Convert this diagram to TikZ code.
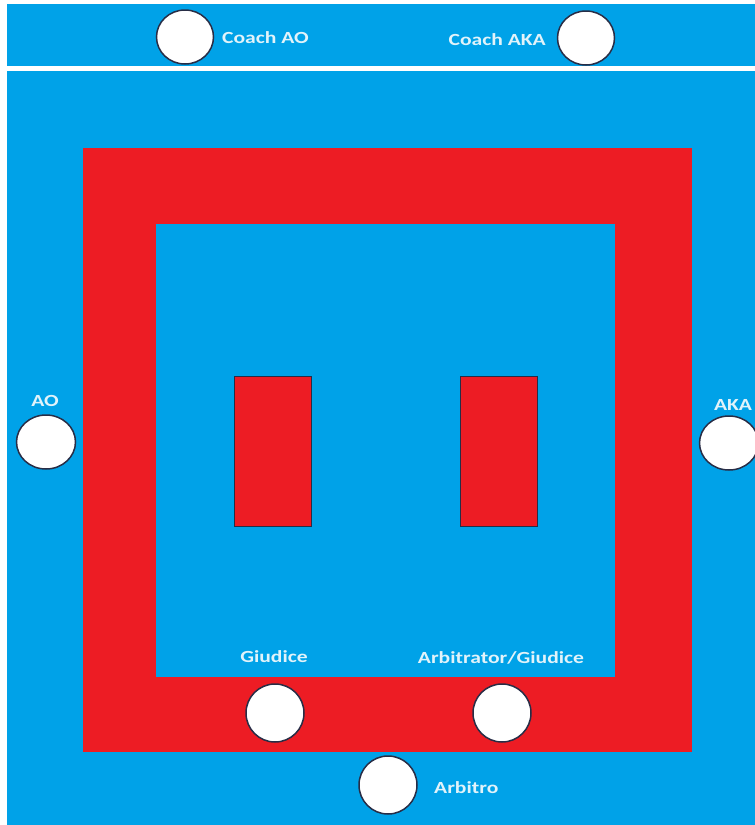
\documentclass[tikz,border=0pt]{standalone}
\usepackage{fontspec}
\newfontfamily\labfont{Carlito}[FakeStretch=1.27]
\usetikzlibrary{shapes.geometric}
\definecolor{paintblue}{RGB}{0,162,232}
\definecolor{paintred}{RGB}{237,28,36}
\definecolor{rimdark}{RGB}{40,45,70}
\definecolor{labcol}{RGB}{225,243,250}
\tikzset{
  seat/.style={ellipse, draw=rimdark, line width=1.5pt, fill=white, minimum width=#1, minimum height=54pt, inner sep=0pt},
  seat/.default=57pt,
  lab/.style={text=labcol, font=\labfont\bfseries\fontsize{17}{17}\selectfont, inner sep=0pt},
  mat/.style={fill=paintred, draw=rimdark, line width=0.8pt}
}
\begin{document}
\begin{tikzpicture}[x=1pt,y=-1pt]
\useasboundingbox (0,0) rectangle (755,825);
\fill[white] (0,0) rectangle (755,825);
\fill[paintblue] (7,4) rectangle (755,825);
% separating white line
\fill[white] (7,66) rectangle (755,71);
% outer red square with inner blue area
\fill[paintred] (83,148) rectangle (692,752);
\fill[paintblue] (156,224) rectangle (615,677);
% the two small red rectangles
\draw[mat] (234,376) rectangle (311,526);
\draw[mat] (460,376) rectangle (537,526);
% seats
\node[seat] (coachao) at (185,37) {};
\node[seat] (coachaka) at (586,38) {};
\node[seat=59pt] (ao) at (46,442) {};
\node[seat=59pt] (aka) at (729,443) {};
\node[seat=58pt,minimum height=58pt] (giudice) at (275,713) {};
\node[seat=58pt,minimum height=58pt] (arbgiud) at (502,713) {};
\node[seat=58pt,minimum height=58pt] (arbitro) at (388,785) {};
% labels
\node[lab, anchor=west] (lcoachao) at (222,38) {Coach AO};
\node[lab, anchor=east] (lcoachaka) at (546,40) {Coach AKA};
\node[lab] (lao) at (45,401) {AO};
\node[lab] (laka) at (733,405) {AKA};
\node[lab] (lgiudice) at (274,657) {Giudice};
\node[lab] (larbgiud) at (501,658) {Arbitrator/Giudice};
\node[lab, anchor=west] (larbitro) at (434,788) {Arbitro};
\end{tikzpicture}
\end{document}
